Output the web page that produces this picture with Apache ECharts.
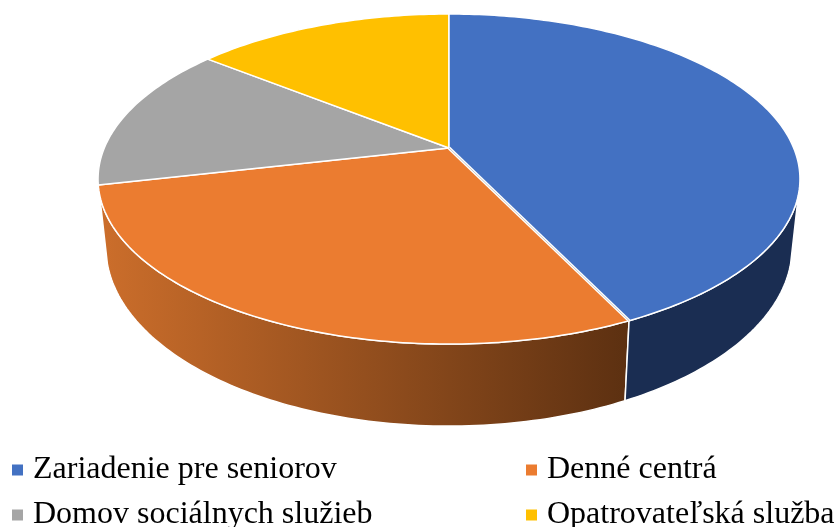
<!DOCTYPE html>
<html>
<head>
<meta charset="utf-8">
<script src="https://cdn.jsdelivr.net/npm/echarts@6/dist/echarts.min.js"></script>
<style>
 html, body { margin: 0; padding: 0; background: #fff; }
 #chart { width: 838px; height: 527px; }
</style>
</head>
<body>
<div id="chart"></div>
<script>
const categories = ['Zariadenie pre seniorov', 'Denné centrá', 'Domov sociálnych služieb', 'Opatrovateľská služba']
const values = [6, 4, 2, 2]

const colors = ['#4371C2', '#EB7C30', '#A5A5A5', '#FFC000']
const wallColors = [['#1A2D52', '#1A2D52'], ['#CC6E2B', '#5C3011'], ['#636363', '#636363'], ['#997300', '#997300']]

// perspective of the tilted disc: the apex is not in the middle of the ellipse
const cx = 449
const persp = 0.188
const topRing = { y: 148, a: 159.2, b: 344.7 }
const bottomRing = { y: 213.4, a: 172.7, b: 337 }
const wallFrom = 106
const wallTo = 254

const total = values.reduce((s, v) => s + v, 0)

const project = (deg, ring) => {
 const t = deg * Math.PI / 180
 const u = Math.sin(t)
 const v = Math.cos(t)
 const w = 1 + persp * v
 return [cx + ring.b * u / w, ring.y - ring.a * v / w]
}

const arc = (from, to, ring) => {
 const pts = []
 const n = Math.max(1, Math.ceil(to - from))
 for (let i = 0; i <= n; i++) {
  pts.push(project(from + (to - from) * i / n, ring))
 }
 return pts
}

const makeRender = (index) => (params, api) => {
 const before = values.slice(0, index).reduce((s, v) => s + v, 0)
 const start = before / total * 360
 const end = start + api.value(0) / total * 360
 const children = []

 const wStart = Math.max(start, wallFrom)
 const wEnd = Math.min(end, wallTo)
 if (wEnd > wStart) {
  children.push({
   type: 'polygon',
   shape: { points: arc(wStart, wEnd, topRing).concat(arc(wStart, wEnd, bottomRing).reverse()) },
   style: {
    fill: {
     type: 'linear', x: 0, y: 0, x2: 1, y2: 0,
     colorStops: [{ offset: 0, color: wallColors[index][0] }, { offset: 1, color: wallColors[index][1] }]
    },
    stroke: '#fff',
    lineWidth: 1.5
   }
  })
 }

 children.push({
  type: 'polygon',
  shape: { points: [[cx, topRing.y]].concat(arc(start, end, topRing)) },
  style: { fill: colors[index], stroke: '#fff', lineWidth: 1.5, lineJoin: 'round' }
 })

 // blue slice sits a hair away from the orange one
 if (index === 0) {
  const rim = project(end, topRing)
  children.push({
   type: 'line',
   shape: { x1: cx, y1: topRing.y, x2: rim[0], y2: rim[1] },
   style: { stroke: '#fff', lineWidth: 3.2 }
  }, {
   type: 'line',
   shape: { x1: cx, y1: topRing.y, x2: rim[0], y2: rim[1] },
   style: { stroke: '#BDBDBD', lineWidth: 0.8 }
  })
 }
 return { type: 'group', children }
}

const legendPos = [[12, 454], [526, 454], [12, 499], [526, 499]]

const myChart = echarts.init(document.getElementById('chart'))
myChart.setOption({
 animation: false,
 backgroundColor: '#fff',
 legend: categories.map((name, i) => ({
  data: [name],
  left: legendPos[i][0],
  top: legendPos[i][1],
  padding: 0,
  icon: 'rect',
  itemWidth: 11,
  itemHeight: 11,
  selectedMode: false,
  textStyle: {
   fontFamily: 'Liberation Serif',
   fontSize: 32,
   color: '#000',
   padding: [0, 0, 0, 5]
  }
 })),
 series: categories.map((name, i) => ({
  type: 'custom',
  name,
  coordinateSystem: 'none',
  z: i === 0 ? 3 : 2,
  itemStyle: { color: colors[i] },
  renderItem: makeRender(i),
  data: [[values[i]]]
 }))
})
</script>
</body>
</html>
